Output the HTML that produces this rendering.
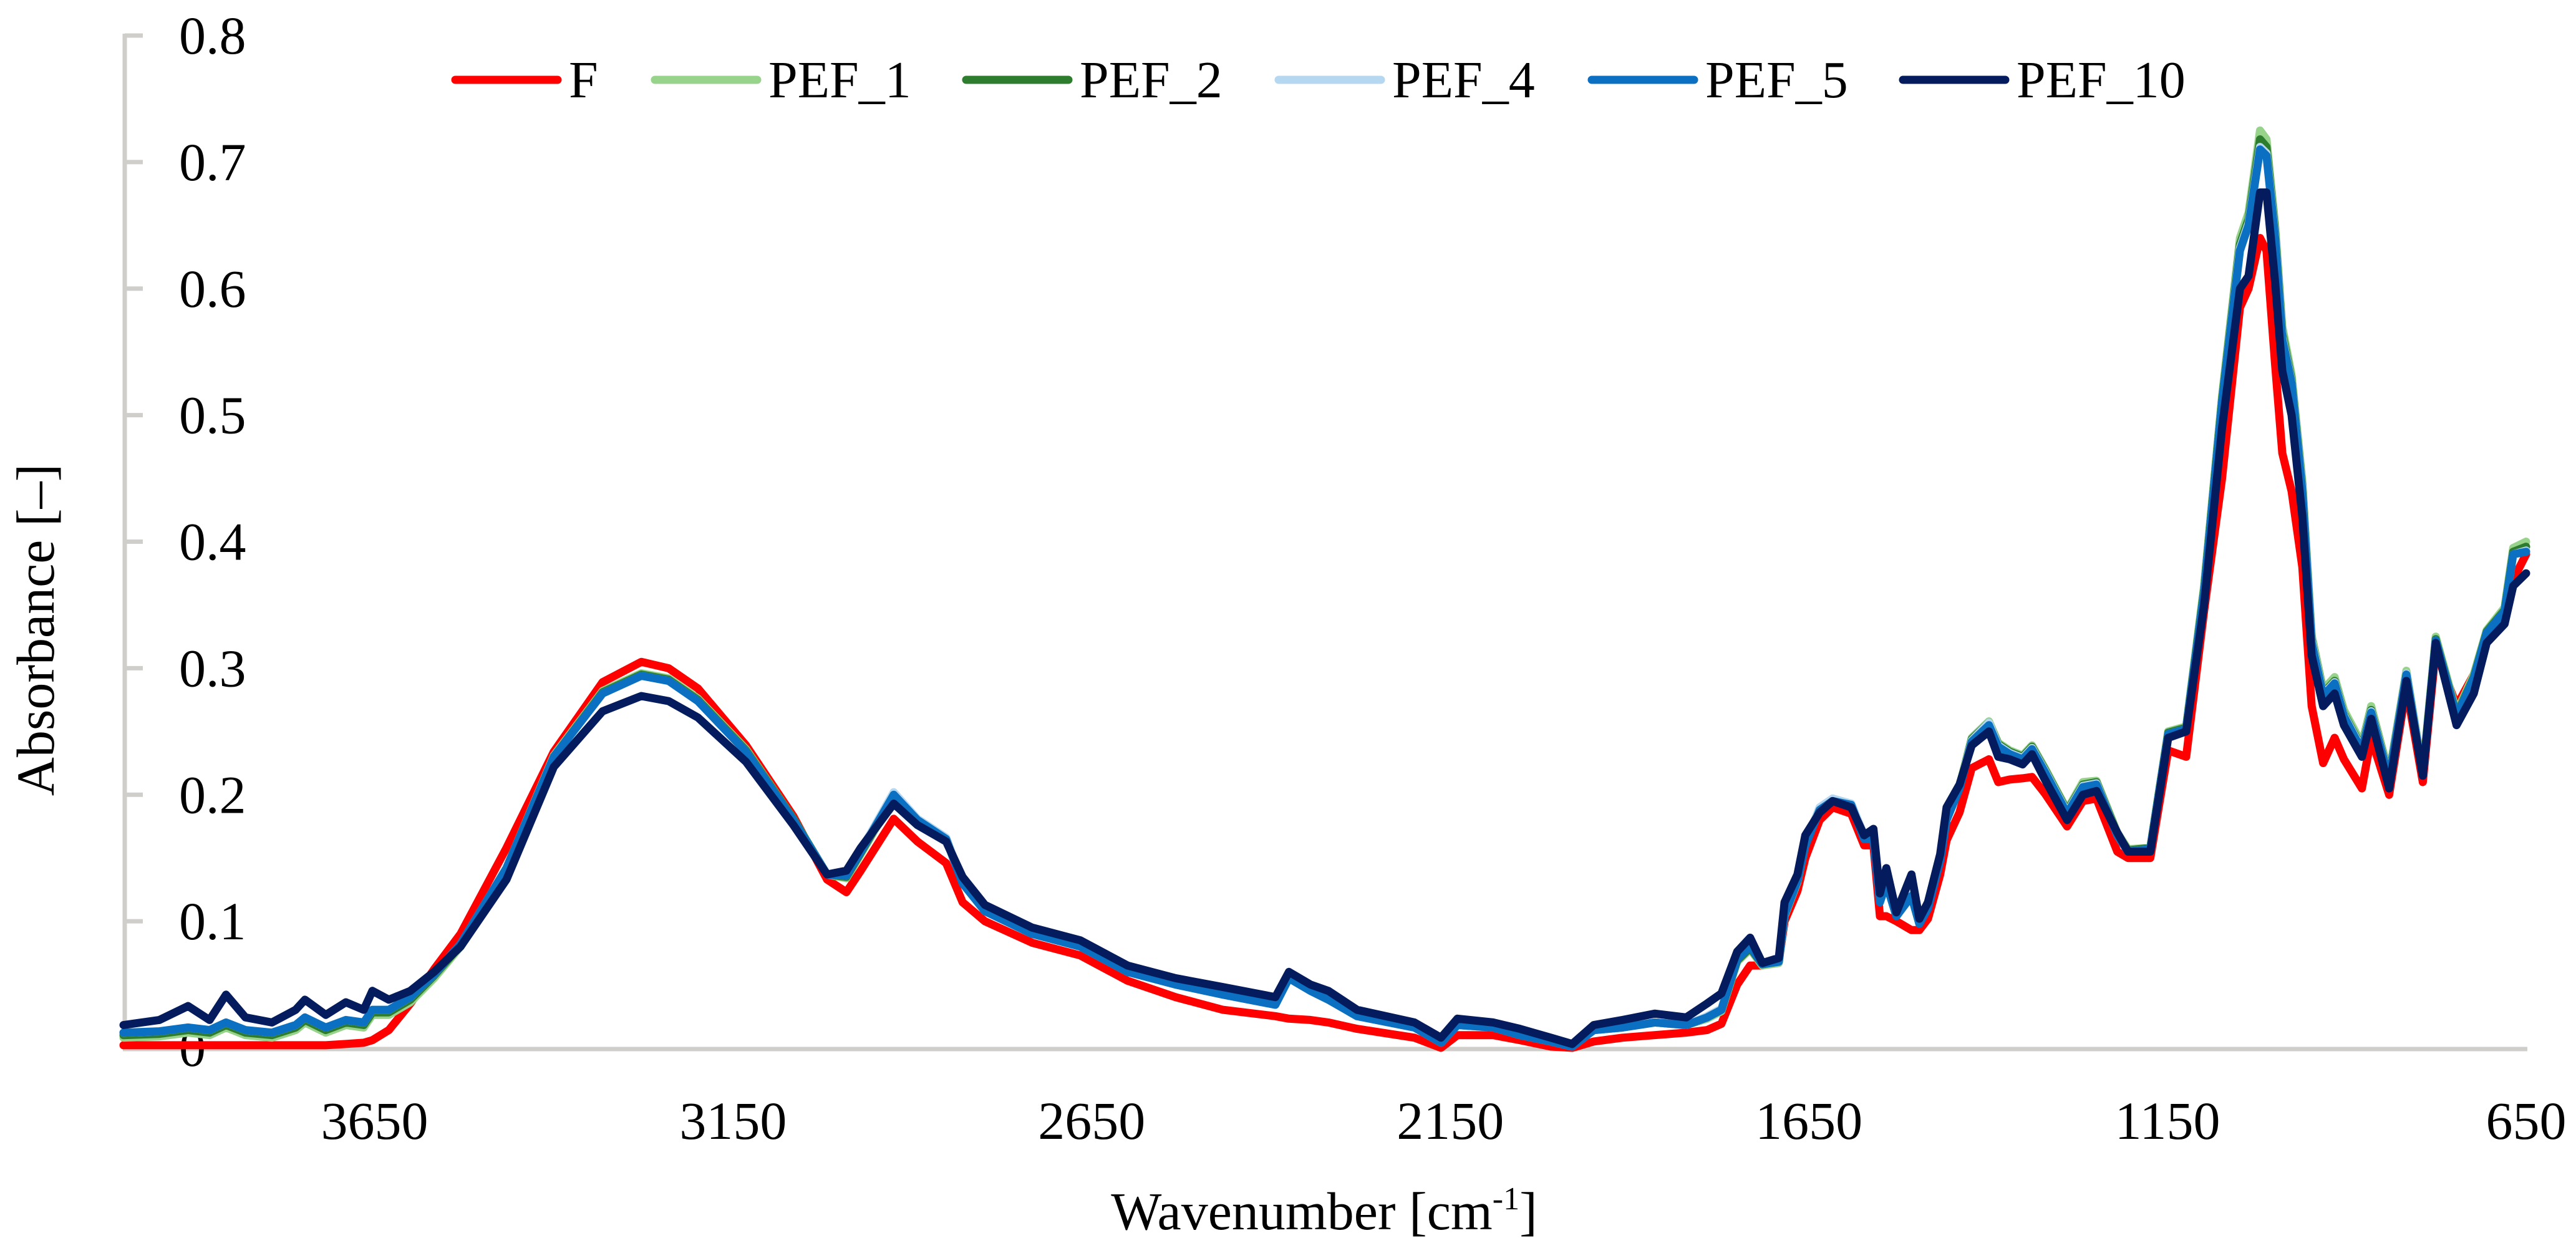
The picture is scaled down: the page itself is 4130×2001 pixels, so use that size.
<!DOCTYPE html>
<html><head><meta charset="utf-8"><style>
html,body{margin:0;padding:0;background:#fff;}
svg{display:block;font-family:"Liberation Serif",serif;}
</style></head><body>
<svg id="chart" width="4130" height="2001" viewBox="0 0 4130 2001">
<rect width="4130" height="2001" fill="#fff"/>
<g id="axes"></g>
<g id="series"></g>
<g id="legend"></g>
<text x="2123" y="1971" font-size="86" text-anchor="middle">Wavenumber [cm<tspan font-size="52" dy="-32">-1</tspan><tspan dy="32">]</tspan></text>
<text transform="translate(86,1010) rotate(-90)" font-size="86" text-anchor="middle">Absorbance [–]</text>
</svg>
<script>
const wavenumbers=[4000,3950,3910,3880,3857,3830,3793,3760,3747,3718,3690,3665,3653,3630,3600,3567,3530,3466,3400,3332,3278,3240,3199,3132,3066,3019,2992,2972,2926,2893,2853,2830,2799,2733,2666,2600,2533,2467,2394,2375,2345,2320,2280,2200,2163,2140,2090,2053,2010,1980,1950,1910,1865,1821,1792,1772,1750,1732,1715,1692,1684,1666,1655,1635,1617,1591,1573,1560,1551,1542,1528,1507,1496,1484,1467,1458,1440,1423,1399,1386,1370,1352,1339,1321,1290,1268,1249,1220,1205,1174,1149,1124,1099,1074,1049,1037,1021,1012,1000,990,977,962,949,933,917,904,879,866,841,817,794,776,747,723,705,680,668,650];
const seriesF=[0.002,0.002,0.002,0.002,0.002,0.002,0.002,0.002,0.002,0.002,0.003,0.004,0.006,0.014,0.035,0.062,0.09,0.158,0.234,0.289,0.305,0.3,0.284,0.239,0.183,0.133,0.123,0.14,0.181,0.163,0.146,0.115,0.1,0.083,0.073,0.053,0.04,0.03,0.025,0.023,0.022,0.02,0.015,0.008,0,0.01,0.01,0.006,0.001,0,0.005,0.008,0.01,0.012,0.014,0.019,0.05,0.065,0.065,0.068,0.1,0.124,0.15,0.18,0.19,0.185,0.16,0.16,0.104,0.104,0.1,0.093,0.093,0.102,0.137,0.164,0.186,0.221,0.228,0.21,0.212,0.213,0.214,0.201,0.175,0.195,0.197,0.155,0.15,0.15,0.235,0.23,0.345,0.45,0.585,0.6,0.64,0.63,0.54,0.47,0.44,0.38,0.27,0.225,0.245,0.228,0.205,0.245,0.2,0.285,0.21,0.315,0.27,0.295,0.325,0.34,0.37,0.39];
const seriesPEF1=[0.008,0.009,0.012,0.01,0.016,0.01,0.008,0.014,0.02,0.012,0.018,0.016,0.026,0.026,0.036,0.055,0.08,0.142,0.231,0.282,0.296,0.292,0.276,0.236,0.181,0.137,0.134,0.153,0.198,0.181,0.166,0.131,0.109,0.091,0.081,0.061,0.051,0.043,0.035,0.055,0.046,0.039,0.026,0.017,0.005,0.019,0.017,0.011,0.006,0.002,0.014,0.016,0.02,0.018,0.023,0.029,0.068,0.078,0.065,0.067,0.104,0.131,0.16,0.189,0.196,0.193,0.167,0.166,0.116,0.13,0.105,0.12,0.099,0.112,0.15,0.182,0.207,0.245,0.258,0.241,0.235,0.231,0.239,0.221,0.188,0.21,0.211,0.17,0.157,0.158,0.25,0.254,0.365,0.515,0.64,0.66,0.725,0.718,0.65,0.57,0.532,0.448,0.326,0.283,0.293,0.267,0.24,0.27,0.216,0.298,0.218,0.325,0.265,0.295,0.33,0.348,0.395,0.4];
const seriesPEF2=[0.01,0.011,0.014,0.012,0.018,0.012,0.01,0.016,0.022,0.014,0.02,0.018,0.028,0.028,0.038,0.057,0.081,0.142,0.23,0.281,0.295,0.291,0.275,0.235,0.181,0.137,0.135,0.154,0.199,0.18,0.165,0.13,0.108,0.09,0.08,0.06,0.05,0.042,0.034,0.055,0.045,0.038,0.025,0.016,0.004,0.018,0.016,0.01,0.005,0.001,0.014,0.016,0.02,0.018,0.024,0.03,0.069,0.079,0.066,0.068,0.105,0.132,0.16,0.188,0.195,0.192,0.166,0.166,0.116,0.13,0.104,0.12,0.098,0.111,0.149,0.181,0.206,0.244,0.257,0.24,0.234,0.23,0.238,0.22,0.187,0.208,0.21,0.169,0.156,0.158,0.249,0.253,0.362,0.512,0.635,0.655,0.718,0.712,0.645,0.565,0.528,0.444,0.323,0.28,0.29,0.264,0.237,0.267,0.214,0.296,0.216,0.323,0.263,0.293,0.329,0.346,0.392,0.396];
const seriesPEF4=[0.012,0.013,0.016,0.014,0.02,0.014,0.012,0.018,0.024,0.016,0.022,0.02,0.03,0.03,0.04,0.058,0.082,0.142,0.23,0.28,0.294,0.29,0.274,0.234,0.18,0.137,0.136,0.156,0.202,0.181,0.166,0.131,0.108,0.09,0.08,0.06,0.05,0.042,0.034,0.055,0.045,0.038,0.025,0.016,0.004,0.018,0.016,0.01,0.005,0.001,0.014,0.016,0.02,0.018,0.025,0.031,0.071,0.081,0.067,0.069,0.107,0.134,0.162,0.19,0.197,0.193,0.168,0.167,0.118,0.132,0.106,0.122,0.1,0.111,0.149,0.181,0.206,0.243,0.257,0.239,0.233,0.229,0.237,0.219,0.186,0.207,0.209,0.168,0.155,0.157,0.248,0.252,0.36,0.51,0.632,0.652,0.712,0.707,0.642,0.562,0.526,0.442,0.322,0.279,0.289,0.263,0.236,0.266,0.213,0.296,0.216,0.322,0.262,0.292,0.328,0.345,0.39,0.393];
const seriesPEF5=[0.012,0.013,0.016,0.014,0.02,0.014,0.012,0.018,0.024,0.016,0.022,0.02,0.03,0.03,0.04,0.058,0.082,0.142,0.23,0.28,0.294,0.29,0.274,0.234,0.18,0.137,0.136,0.155,0.2,0.18,0.165,0.13,0.108,0.09,0.08,0.06,0.05,0.042,0.034,0.055,0.045,0.038,0.025,0.016,0.004,0.018,0.016,0.01,0.005,0.001,0.014,0.016,0.02,0.018,0.024,0.03,0.07,0.08,0.066,0.068,0.105,0.132,0.16,0.188,0.195,0.192,0.165,0.165,0.115,0.13,0.104,0.12,0.098,0.11,0.148,0.18,0.205,0.242,0.255,0.238,0.232,0.228,0.236,0.218,0.185,0.206,0.208,0.168,0.155,0.157,0.248,0.252,0.36,0.51,0.63,0.65,0.71,0.705,0.64,0.56,0.525,0.44,0.32,0.278,0.288,0.262,0.235,0.265,0.212,0.295,0.215,0.322,0.262,0.292,0.328,0.345,0.39,0.392];
const seriesPEF10=[0.018,0.022,0.033,0.022,0.042,0.024,0.02,0.03,0.038,0.026,0.036,0.03,0.045,0.038,0.045,0.06,0.08,0.133,0.222,0.266,0.278,0.274,0.261,0.226,0.176,0.137,0.14,0.158,0.193,0.176,0.163,0.135,0.113,0.095,0.085,0.065,0.055,0.048,0.04,0.06,0.05,0.045,0.03,0.02,0.008,0.023,0.02,0.015,0.008,0.003,0.018,0.022,0.027,0.024,0.035,0.043,0.076,0.087,0.067,0.071,0.115,0.137,0.168,0.186,0.195,0.19,0.168,0.173,0.122,0.142,0.107,0.137,0.102,0.115,0.153,0.19,0.208,0.239,0.25,0.23,0.228,0.224,0.232,0.212,0.18,0.2,0.203,0.17,0.155,0.155,0.245,0.25,0.35,0.49,0.6,0.61,0.676,0.676,0.605,0.535,0.5,0.42,0.31,0.27,0.28,0.255,0.23,0.26,0.205,0.29,0.215,0.32,0.255,0.28,0.32,0.335,0.365,0.375];
const seriesNames=["F","PEF_1","PEF_2","PEF_4","PEF_5","PEF_10"];
const yTicks=[0,0.1,0.2,0.3,0.4,0.5,0.6,0.7,0.8];
const xTicks=[3650,3150,2650,2150,1650,1150,650];

const NS="http://www.w3.org/2000/svg";
const X0=198,X1=4050,WN0=4000,WN1=650,Y0=1680,Y1=57,V1=0.8;
function xs(w){return X0+(WN0-w)*(X1-X0)/(WN0-WN1);}
function ys(v){return Y0-v*(Y0-Y1)/V1;}
function mk(tag,attrs,parent){const e=document.createElementNS(NS,tag);for(const k in attrs)e.setAttribute(k,attrs[k]);parent.appendChild(e);return e;}
const axes=document.getElementById('axes');
const yAxis=mk('line',{x1:200,y1:ys(0.8)-3,x2:200,y2:Y0+3,stroke:'#d0cecb','stroke-width':7},axes);


const xAxis=mk('line',{x1:197,y1:Y0+2,x2:4052,y2:Y0+2,stroke:'#d0cecb','stroke-width':7},axes);


yTicks.forEach(v=>{
  const t=mk('line',{x1:200,y1:ys(v),x2:229,y2:ys(v),stroke:'#d0cecb','stroke-width':7},axes);
  
  
  const l=mk('text',{x:287,y:ys(v)+29,'font-size':86},axes);
  l.textContent=String(v);
  
  
});
xTicks.forEach(w=>{
  const l=mk('text',{x:xs(w),y:1826,'font-size':86,'text-anchor':'middle'},axes);
  l.textContent=String(w);
  
  
});
const colors=["#ff0000","#98d38c","#2e7d2e","#b5d7ef","#0b70c2","#041c5e"];
const allSeries=[seriesF,seriesPEF1,seriesPEF2,seriesPEF4,seriesPEF5,seriesPEF10];
const sg=document.getElementById('series');
allSeries.forEach((arr,i)=>{
  const d=arr.map((v,j)=>(j?'L':'M')+xs(wavenumbers[j]).toFixed(1)+' '+ys(v).toFixed(1)).join(' ');
  const p=mk('path',{d:d,fill:'none',stroke:colors[i],'stroke-width':13,'stroke-linejoin':'round','stroke-linecap':'round'},sg);
  
  
});
const lg=document.getElementById('legend');
const legX=[724,1044,1543,2044,2546,3045];
seriesNames.forEach((n,i)=>{
  const g=mk('g',{},lg);
  
  
  mk('line',{x1:legX[i]+6,y1:128,x2:legX[i]+170,y2:128,stroke:colors[i],'stroke-width':13,'stroke-linecap':'round'},g);
  const t=mk('text',{x:legX[i]+188,y:156,'font-size':84},g);
  t.textContent=n;
});
</script>
</body></html>
